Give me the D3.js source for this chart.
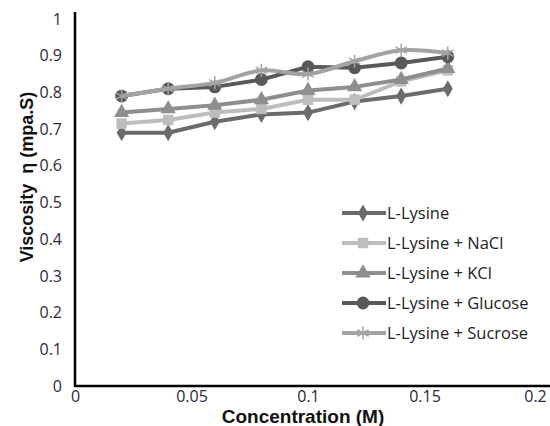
<!DOCTYPE html>
<html>
<head>
<meta charset="utf-8">
<script src="https://cdn.jsdelivr.net/npm/d3@7"></script>
<style>
  body { margin: 0; background: #fff; }
  svg { display: block; }
</style>
</head>
<body>
<svg id="chart" width="550" height="426"></svg>
<script>
// concentrations (M)
var conc = [0.02, 0.04, 0.06, 0.08, 0.1, 0.12, 0.14, 0.16];
// viscosity values
var lysine   = [0.69, 0.69, 0.72, 0.74, 0.745, 0.775, 0.79, 0.81];
var nacl     = [0.715, 0.725, 0.745, 0.755, 0.78, 0.78, 0.83, 0.86];
var kcl      = [0.745, 0.755, 0.765, 0.78, 0.805, 0.815, 0.835, 0.865];
var glucose  = [0.79, 0.81, 0.815, 0.835, 0.87, 0.867, 0.88, 0.897];
var sucrose  = [0.79, 0.81, 0.826, 0.86, 0.85, 0.885, 0.915, 0.907];
var seriesNames = ["L-Lysine", "L-Lysine + NaCl", "L-Lysine + KCl", "L-Lysine + Glucose", "L-Lysine + Sucrose"];
var xTicks = [0, 0.05, 0.1, 0.15, 0.2];
var yTicks = [0, 0.1, 0.2, 0.3, 0.4, 0.5, 0.6, 0.7, 0.8, 0.9, 1];

var series = [
  {name: seriesNames[0], vals: lysine,  color: "#6b6b6b", marker: "diamond"},
  {name: seriesNames[1], vals: nacl,    color: "#bdbdbd", marker: "square"},
  {name: seriesNames[2], vals: kcl,     color: "#8e8e8e", marker: "triangle"},
  {name: seriesNames[3], vals: glucose, color: "#595959", marker: "circle"},
  {name: seriesNames[4], vals: sucrose, color: "#a3a3a3", marker: "star", smooth: true}
];

var svg = d3.select("#chart");
var x = d3.scaleLinear().domain([0, 0.2]).range([75, 541]);
var y = d3.scaleLinear().domain([0, 1]).range([386, 19]);
var tickFont = "'Open Sans', Lato, sans-serif";
var titleFont = "'Liberation Sans', Arial, sans-serif";

// axes
var xAxis = svg.append("g").attr("transform", "translate(0,386)")
  .call(d3.axisBottom(x).tickValues(xTicks).tickSize(0).tickPadding(5)
    .tickFormat(function(d){ return d === 0 ? "0" : String(+d.toFixed(2)); }));
xAxis.select(".domain").remove();
// last label is pulled in so it stays inside the frame
xAxis.selectAll(".tick text").filter(function(d){ return d === 0.2; }).attr("dx", -6);
svg.append("line").attr("x1", 74).attr("x2", 550).attr("y1", 386).attr("y2", 386)
  .attr("stroke", "#000").attr("stroke-width", 2.5);

var yAxis = svg.append("g").attr("transform", "translate(75,0)")
  .call(d3.axisLeft(y).tickValues(yTicks).tickSize(0).tickPadding(13)
    .tickFormat(function(d){ return d === 0 ? "0" : d === 1 ? "1" : d.toFixed(1); }));
yAxis.select(".domain").remove();
svg.append("line").attr("x1", 75).attr("x2", 75).attr("y1", 12).attr("y2", 387)
  .attr("stroke", "#000").attr("stroke-width", 2.5);

svg.selectAll(".tick text").attr("font-family", tickFont).attr("font-size", 16).attr("fill", "#2a2a3a");

// axis titles
svg.append("text").attr("x", 303).attr("y", 423).attr("text-anchor", "middle")
  .attr("font-family", titleFont).attr("font-weight", "bold")
  .attr("font-size", 19).attr("fill", "#111").text("Concentration (M)");
svg.append("text").attr("transform", "translate(33,177) rotate(-90)").attr("text-anchor", "middle")
  .attr("font-family", titleFont).attr("font-weight", "bold").style("white-space", "pre")
  .attr("font-size", 18).attr("fill", "#111").text("Viscosity  η (mpa.S)");

function drawMarker(g, type, color) {
  if (type === "diamond") {
    g.append("path").attr("d", d3.symbol().type(d3.symbolDiamond).size(85)()).attr("fill", color);
  } else if (type === "square") {
    g.append("path").attr("d", d3.symbol().type(d3.symbolSquare).size(110)()).attr("fill", color);
  } else if (type === "triangle") {
    g.append("path").attr("d", d3.symbol().type(d3.symbolTriangle).size(100)()).attr("fill", color);
  } else if (type === "circle") {
    g.append("path").attr("d", d3.symbol().type(d3.symbolCircle).size(130)()).attr("fill", color);
  } else if (type === "star") {
    g.append("path").attr("d", d3.symbol().type(d3.symbolAsterisk).size(120)())
      .attr("fill", "none").attr("stroke", color).attr("stroke-width", 1.5);
  }
}

var plot = svg.append("g");
series.forEach(function(s) {
  var line = d3.line()
    .x(function(d, i){ return x(conc[i]); })
    .y(function(d){ return y(d); })
    .curve(s.smooth ? d3.curveCatmullRom.alpha(0.5) : d3.curveLinear);
  plot.append("path").datum(s.vals).attr("d", line)
    .attr("fill", "none").attr("stroke", s.color).attr("stroke-width", 4)
    .attr("stroke-linejoin", "round");
  s.vals.forEach(function(v, i) {
    var g = plot.append("g").attr("transform", "translate(" + x(conc[i]) + "," + y(v) + ")");
    drawMarker(g, s.marker, s.color);
  });
});

// legend
var legend = svg.append("g");
series.forEach(function(s, i) {
  var ly = 213 + i * 30;
  var g = legend.append("g").attr("transform", "translate(0," + ly + ")");
  g.append("line").attr("x1", 342).attr("x2", 386).attr("y1", 0).attr("y2", 0)
    .attr("stroke", s.color).attr("stroke-width", 4);
  drawMarker(g.append("g").attr("transform", "translate(363,0)"), s.marker, s.color);
  g.append("text").attr("x", 387).attr("y", 6).attr("font-family", tickFont)
    .attr("font-size", 16.5).attr("fill", "#222").text(s.name);
});
</script>
</body>
</html>
